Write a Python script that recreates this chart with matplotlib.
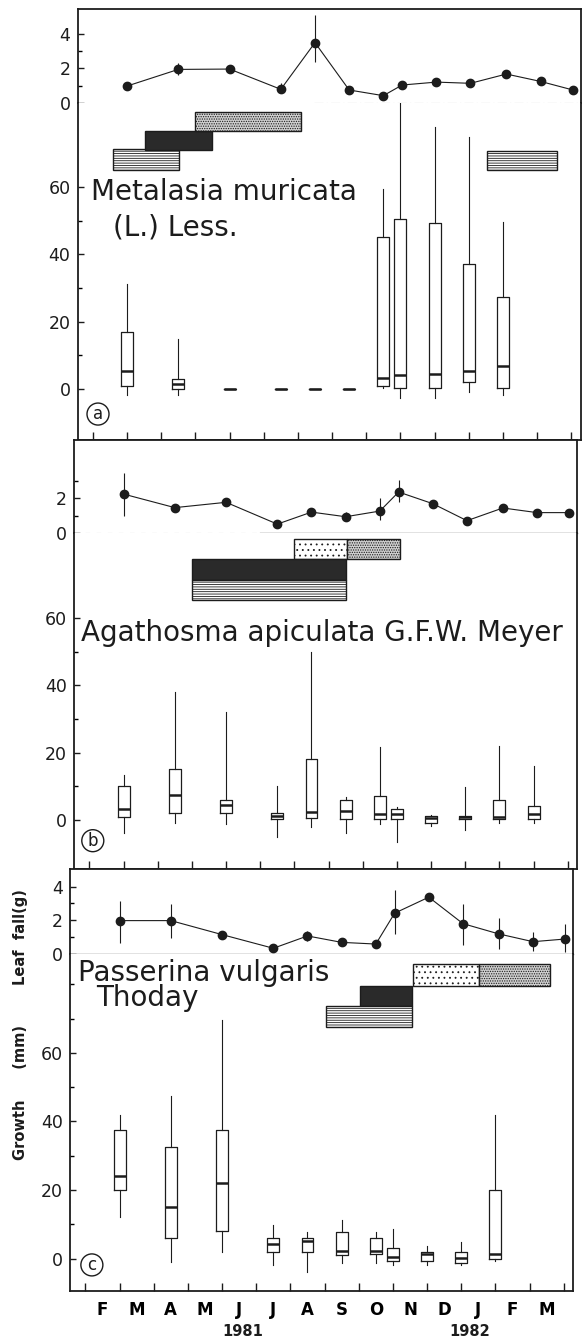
import matplotlib.pyplot as plt
import matplotlib.transforms as mtransforms
import numpy as np

W, H = 582, 1340
INK = "#1c1c1c"

months = ["F", "M", "A", "M", "J", "J", "A", "S", "O", "N", "D", "J", "F", "M"]
years = ["1981", "1982"]
year_pos = [4.6, 11.25]

# sampling dates, in months counted from 1 Feb 1981
lf_month = [1, 2.5, 4, 5.5, 6.5, 7.5, 8.5, 9.05, 10.05, 11.05, 12.1, 13.1, 14.05]
growth_month = [1, 2.5, 4, 5.5, 6.5, 7.5, 8.5, 9, 10, 11, 12, 13]

# ---- (a) Metalasia muricata
a_lf = [0.97, 1.94, 1.96, 0.78, 3.50, 0.74, 0.41, 1.03, 1.20, 1.13, 1.67, 1.24, 0.74]
a_lf_lo = [0, 0.33, 0, 0.24, 1.11, 0, 0, 0, 0, 0, 0, 0, 0]
a_lf_hi = [0, 0.35, 0, 0.35, 1.60, 0, 0, 0, 0, 0, 0, 0, 0]
a_wlo = [-1.8, -1.8, 0, 0, 0, 0, 0.2, -2.6, -2.6, -0.8, -1.8]
a_q1 = [0.9, 0.0, 0, 0, 0, 0, 0.9, 0.2, 0.2, 2.2, 0.2]
a_med = [5.3, 1.4, 0, 0, 0, 0, 3.4, 4.2, 4.4, 5.3, 7.0]
a_q3 = [17.0, 3.0, 0, 0, 0, 0, 45.0, 50.4, 49.4, 37.1, 27.4]
a_whi = [31.2, 14.9, 0, 0, 0, 0, 59.4, 85.5, 77.7, 74.8, 49.7]
a_bar_start = [0.60, 1.52, 2.99, 11.53]
a_bar_end = [2.53, 3.50, 6.09, 13.57]
a_bar_bottom = [65.0, 70.9, 76.6, 65.0]
a_bar_top = [71.2, 76.6, 82.3, 70.7]
a_bar_kind = ["hatch", "black", "stipple", "hatch"]

# ---- (b) Agathosma apiculata
b_lf = [2.25, 1.46, 1.77, 0.50, 1.20, 0.93, 1.26, 2.37, 1.69, 0.70, 1.44, 1.17, 1.17]
b_lf_lo = [1.28, 0.24, 0, 0, 0, 0.25, 0.52, 0.56, 0, 0, 0, 0, 0]
b_lf_hi = [1.21, 0.21, 0, 0, 0, 0.25, 0.74, 0.70, 0, 0, 0, 0, 0]
b_wlo = [-3.9, -0.8, -1.0, -4.9, -2.0, -3.7, -1.0, -6.6, -1.8, -2.8, -0.8, -0.8]
b_q1 = [1.0, 2.2, 2.2, 0.2, 0.5, 0.2, 0.2, 0.2, -0.8, 0.2, 0.2, 0.2]
b_med = [3.4, 7.6, 4.6, 1.3, 2.5, 2.8, 1.7, 1.7, 0.5, 0.8, 1.0, 1.8]
b_q3 = [10.1, 15.1, 6.1, 2.2, 18.0, 5.9, 7.1, 3.2, 1.2, 1.2, 6.1, 4.2]
b_whi = [13.3, 37.9, 32.0, 10.0, 49.8, 6.9, 21.7, 3.9, 1.5, 9.9, 21.9, 16.1]
b_bar_start = [6.00, 7.54, 3.00, 3.00]
b_bar_end = [7.54, 9.08, 7.52, 7.52]
b_bar_bottom = [77.4, 77.4, 71.2, 65.3]
b_bar_top = [83.3, 83.3, 77.4, 71.2]
b_bar_kind = ["dots", "stipple", "black", "hatch"]

# ---- (c) Passerina vulgaris
c_lf = [1.98, 1.98, 1.15, 0.34, 1.07, 0.69, 0.59, 2.42, 3.37, 1.80, 1.19, 0.73, 0.89]
c_lf_lo = [1.35, 1.05, 0, 0, 0.30, 0, 0, 1.23, 0, 1.27, 0.89, 0.53, 0.75]
c_lf_hi = [1.17, 0.97, 0, 0, 0.30, 0, 0, 1.38, 0, 1.17, 0.93, 0.56, 0.87]
c_wlo = [12.1, -1.0, 1.9, -1.9, -3.9, -1.1, -1.1, -1.9, -1.9, -1.9, -0.6]
c_q1 = [20.0, 6.1, 8.1, 2.1, 2.1, 1.1, 1.3, -0.8, -0.8, -1.2, 0.0]
c_med = [24.1, 15.1, 22.2, 4.3, 5.3, 2.4, 2.4, 0.6, 1.3, 0.2, 1.4]
c_q3 = [37.6, 32.7, 37.6, 6.1, 6.1, 7.9, 6.1, 3.1, 2.1, 1.9, 20.0]
c_whi = [41.8, 47.5, 69.7, 9.8, 7.9, 11.2, 7.9, 8.8, 3.8, 4.8, 41.8]
c_bar_start = [9.58, 11.51, 8.05, 7.03]
c_bar_end = [11.51, 13.60, 9.55, 9.55]
c_bar_bottom = [79.6, 79.6, 73.6, 67.6]
c_bar_top = [85.8, 85.8, 79.6, 73.6]
c_bar_kind = ["dots", "stipple", "black", "hatch"]

bar_style = {
    "hatch": dict(facecolor="white", hatch="-------"),
    "black": dict(facecolor="#2a2a2a", hatch=None),
    "stipple": dict(facecolor="#cfcfcf", hatch="......."),
    "dots": dict(facecolor="white", hatch="..."),
}

plt.rcParams["font.family"] = ["DejaVu Sans"]
plt.rcParams["hatch.linewidth"] = 0.6
plt.rcParams["hatch.color"] = INK

fig = plt.figure(figsize=(W / 100, H / 100), dpi=100)


def rect(left, top, right, bottom):
    return [left / W, 1 - bottom / H, (right - left) / W, (bottom - top) / H]


XLIM = (-0.45, 14.27)


def panel(px, lf, lf_lo, lf_hi, lf_top, lf_major, box_x, wlo, q1, med, q3, whi,
          g_lim, g_minor, bars, title_lines, letter, letter_xy, zero_line):
    left, top, mid, bottom = px
    right = left + 503
    ax_lf = fig.add_axes(rect(left, top, right, mid))
    ax_g = fig.add_axes(rect(left, mid, right, bottom))

    for ax in (ax_lf, ax_g):
        ax.set_xlim(*XLIM)
        for s in ax.spines.values():
            s.set_linewidth(1.3)
            s.set_color(INK)
        ax.tick_params(direction="in", colors=INK, labelsize=12.5, width=1.0, pad=5)
        ax.tick_params(which="minor", direction="in", length=3, width=1.0)
        ax.tick_params(which="major", length=4)
    ax_lf.spines["bottom"].set_visible(False)
    ax_g.spines["top"].set_visible(False)

    # leaf fall
    ax_lf.errorbar(lf_month, lf, yerr=[lf_lo, lf_hi], fmt="-o", color=INK, ms=6,
                   lw=0.8, elinewidth=0.8, capsize=0, clip_on=False)
    ax_lf.set_ylim(0, lf_top)
    ax_lf.set_xticks([])
    ax_lf.set_yticks(lf_major)
    ax_lf.set_yticks([1, 3], minor=True)
    for x0, x1, style in zero_line:
        ax_lf.plot([x0, x1], [0, 0], clip_on=False, **style)

    # growth
    stats = [dict(med=m, q1=a, q3=b, whislo=lo, whishi=hi, fliers=[])
             for lo, a, m, b, hi in zip(wlo, q1, med, q3, whi)]
    ax_g.bxp(stats, positions=box_x, widths=0.35, showcaps=False, showfliers=False,
             manage_ticks=False,
             boxprops=dict(color=INK, lw=0.9),
             whiskerprops=dict(color=INK, lw=0.8),
             medianprops=dict(color=INK, lw=1.8))
    ax_g.set_ylim(*g_lim)
    ax_g.set_yticks([0, 20, 40, 60])
    ax_g.set_yticks(g_minor, minor=True)
    ax_g.set_xticks(np.arange(0, 15))
    ax_g.tick_params(axis="x", which="major", length=6, labelbottom=False)

    starts, ends, bots, tops, kinds = bars
    for s, e, b, t, k in zip(starts, ends, bots, tops, kinds):
        ax_g.bar(s, t - b, width=e - s, bottom=b, align="edge", edgecolor=INK,
                 linewidth=1.0, **bar_style[k])

    for (tx, ty, txt) in title_lines:
        ax_g.text(tx, ty, txt, fontsize=20, color=INK, ha="left", va="center")

    ax_g.text(letter_xy[0], letter_xy[1], letter, fontsize=12, color=INK,
              ha="center", va="center",
              bbox=dict(boxstyle="circle,pad=0.12", fc="none", ec=INK, lw=1.0))
    return ax_lf, ax_g


panel((77.5, 9, 102.7, 440), a_lf, a_lf_lo, a_lf_hi, 5.46, [0, 2, 4],
      growth_month[:11], a_wlo, a_q1, a_med, a_q3, a_whi,
      (-15.1, 85.0), [10, 30, 50],
      (a_bar_start, a_bar_end, a_bar_bottom, a_bar_top, a_bar_kind),
      [(-0.06, 58.5, "Metalasia muricata"), (0.59, 48.1, "(L.) Less.")],
      "a", (0.15, -7.4),
      [(6.47, 14.27, dict(color="0.6", lw=0.8, ls=(0, (8, 3, 1, 3))))])

panel((74, 440, 532.7, 869), b_lf, b_lf_lo, b_lf_hi, 5.4, [0, 2],
      growth_month, b_wlo, b_q1, b_med, b_q3, b_whi,
      (-14.5, 85.3), [10, 30, 50],
      (b_bar_start, b_bar_end, b_bar_bottom, b_bar_top, b_bar_kind),
      [(-0.25, 55.5, "Agathosma apiculata G.F.W. Meyer")],
      "b", (0.1, -6.1),
      [(-0.45, 5.0, dict(color="0.7", lw=0.8, ls=(0, (4, 6)))),
       (5.0, 14.27, dict(color=INK, lw=0.9))])

ax_lf, ax_g = panel((70, 869, 954, 1291), c_lf, c_lf_lo, c_lf_hi, 5.04, [0, 2, 4],
                    growth_month[:11], c_wlo, c_q1, c_med, c_q3, c_whi,
                    (-9.4, 88.8), [10, 30, 50, 70, 80],
                    (c_bar_start, c_bar_end, c_bar_bottom, c_bar_top, c_bar_kind),
                    [(-0.22, 83.4, "Passerina vulgaris"), (0.31, 76.0, "Thoday")],
                    "c", (0.19, -1.8),
                    [(-0.45, 14.27, dict(color=INK, lw=0.9))])

# month labels centred between month boundaries
ax_g.set_xticks(np.arange(0.5, 14, 1), minor=True)
ax_g.set_xticklabels(months, minor=True)
ax_g.tick_params(axis="x", which="minor", length=0, pad=7, labelsize=12,
                 labelbottom=True)
for lab in ax_g.get_xticklabels(minor=True):
    lab.set_fontweight("bold")

trans = mtransforms.blended_transform_factory(ax_g.transData, fig.transFigure)
for yx, yl in zip(year_pos, years):
    ax_g.text(yx, 1 - 1331 / H, yl, transform=trans, fontsize=10.5,
              fontweight="bold", color=INK, ha="center", va="center")

fig.text(21 / W, 1 - 937 / H, "Leaf  fall(g)", rotation=90, ha="center",
         va="center", fontsize=10.5, fontweight="bold", color=INK)
fig.text(21 / W, 1 - 1093 / H, "Growth      (mm)", rotation=90, ha="center",
         va="center", fontsize=10.5, fontweight="bold", color=INK)

fig.savefig("out.png", dpi=100, facecolor="white")
